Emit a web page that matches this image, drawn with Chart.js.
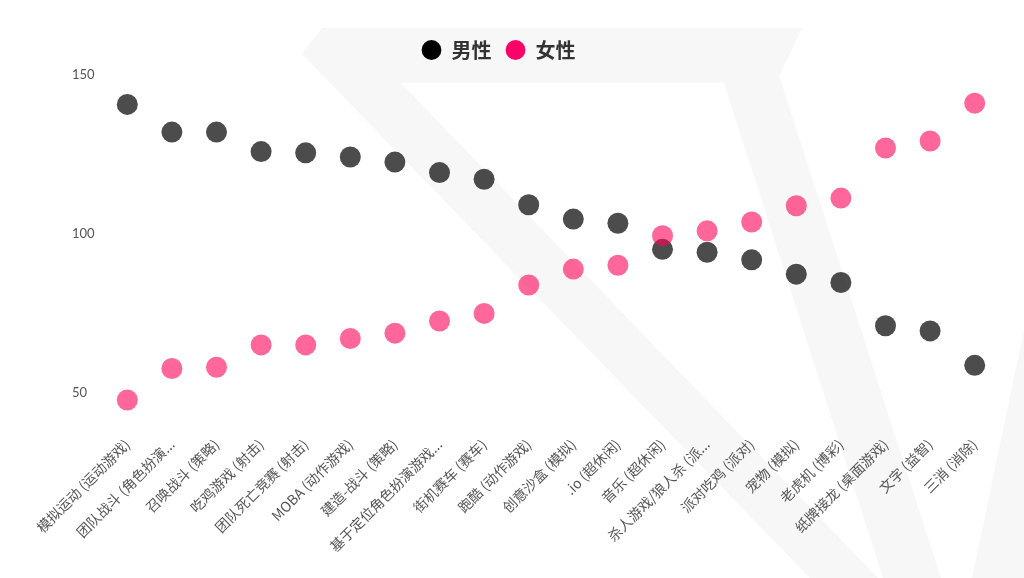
<!DOCTYPE html>
<html>
<head>
<meta charset="utf-8">
<script src="https://cdn.jsdelivr.net/npm/chart.js@4.4.1/dist/chart.umd.min.js"></script>
<style>
  html, body { margin: 0; padding: 0; background: #ffffff; }
  #wrap { position: relative; width: 1024px; height: 578px; overflow: hidden; }
  #bg { position: absolute; left: 0; top: 0; width: 1024px; height: 578px; }
  #c { position: absolute; left: 0; top: 0; }
</style>
</head>
<body>
<div id="wrap">
  <svg id="bg" viewBox="0 0 1024 578" xmlns="http://www.w3.org/2000/svg">
    <g fill="#f7f7f7">
      <polygon points="322,28 802,28 776,83 401,83 878,578 810,578 302,54"/>
      <polygon points="724,83 776,66 941,578 883,578"/>
      <polygon points="1024,330 1024,578 972,578"/>
    </g>
  </svg>
  <canvas id="c" width="1024" height="578"></canvas>
</div>
<script>
const categories = [
  "模拟运动 (运动游戏)", "团队战斗 (角色扮演...", "召唤战斗 (策略)", "吃鸡游戏 (射击)",
  "团队死亡竞赛 (射击)", "MOBA (动作游戏)", "建造-战斗 (策略)", "基于定位角色扮演游戏...",
  "街机赛车 (赛车)", "跑酷 (动作游戏)", "创意沙盒 (模拟)", ".io (超休闲)",
  "音乐 (超休闲)", "杀人游戏/狼人杀 (派...", "派对吃鸡 (派对)", "宠物 (模拟)",
  "老虎机 (博彩)", "纸牌接龙 (桌面游戏)", "文字 (益智)", "三消 (消除)"
];
const maleValues = [140.6, 131.9, 131.9, 125.8, 125.4, 124.1, 122.5, 119.2, 117.1, 109.1,
                    104.6, 103.3, 95.1, 94.2, 91.8, 87.3, 84.7, 71.1, 69.5, 58.7];
const femaleValues = [47.8, 57.7, 58.1, 65.1, 65.1, 67.1, 68.8, 72.6, 75.0, 83.9,
                      88.9, 90.1, 99.4, 100.9, 103.7, 108.8, 111.2, 126.9, 129.1, 141.0];
const yTickValues = [50, 100, 150];
const yRange = [40, 151.4];
const seriesNames = ["男性", "女性"];

const LATIN = "Lato, 'Noto Sans CJK SC', sans-serif";
const legendColors = ["#000000", "#ff0066"];

new Chart(document.getElementById('c'), {
  type: 'line',
  data: {
    labels: categories,
    datasets: [
      {
        label: seriesNames[0],
        data: maleValues,
        yAxisID: 'y',
        xAxisID: 'x',
        showLine: false,
        order: 1,
        pointRadius: 10.5,
        pointHoverRadius: 10.5,
        pointBorderWidth: 0,
        pointBackgroundColor: 'rgba(0,0,0,0.7)',
        backgroundColor: 'rgba(0,0,0,0.7)',
        borderColor: 'rgba(0,0,0,0)'
      },
      {
        label: seriesNames[1],
        data: femaleValues,
        yAxisID: 'y',
        xAxisID: 'x',
        showLine: false,
        order: 0,
        pointRadius: 10.5,
        pointHoverRadius: 10.5,
        pointBorderWidth: 0,
        pointBackgroundColor: 'rgba(255,0,85,0.6)',
        backgroundColor: 'rgba(255,0,85,0.6)',
        borderColor: 'rgba(0,0,0,0)'
      }
    ]
  },
  options: {
    responsive: false,
    animation: false,
    devicePixelRatio: 1,
    layout: { padding: { left: 0, right: 27, top: 26, bottom: 12 } },
    plugins: {
      tooltip: { enabled: false },
      legend: {
        display: true,
        position: 'top',
        reverse: true,
        labels: {
          usePointStyle: true,
          pointStyle: 'circle',
          boxWidth: 20,
          boxHeight: 14,
          padding: 14,
          color: '#333333',
          font: { family: "'Noto Sans CJK SC', sans-serif", size: 20, weight: 'bold' },
          generateLabels(chart) {
            const items = Chart.defaults.plugins.legend.labels.generateLabels(chart);
            items.forEach(it => {
              it.fillStyle = legendColors[it.datasetIndex];
              it.strokeStyle = legendColors[it.datasetIndex];
              it.lineWidth = 0;
            });
            return items;
          }
        }
      }
    },
    scales: {
      x: {
        type: 'category',
        offset: true,
        grid: { display: false, drawTicks: false },
        border: { display: false },
        ticks: {
          autoSkip: false,
          maxRotation: 45,
          minRotation: 45,
          padding: 11,
          color: '#555555',
          font: { family: "'Noto Sans CJK SC', Lato, sans-serif", size: 14 }
        }
      },
      y: {
        position: 'left',
        weight: 0,
        min: yRange[0],
        max: yRange[1],
        grid: { display: false, drawTicks: false },
        border: { display: false },
        afterBuildTicks(scale) {
          scale.ticks = yTickValues.map(v => ({ value: v }));
        },
        afterFit(scale) { scale.width = 33; },
        ticks: {
          crossAlign: 'far',
          padding: 6,
          color: '#555555',
          font: { family: LATIN, size: 13 }
        }
      },
      yspacer: {
        position: 'left',
        weight: 1,
        display: true,
        grid: { display: false, drawTicks: false },
        border: { display: false },
        ticks: { display: false },
        afterFit(scale) { scale.width = 72; }
      }
    }
  }
});
</script>
</body>
</html>
